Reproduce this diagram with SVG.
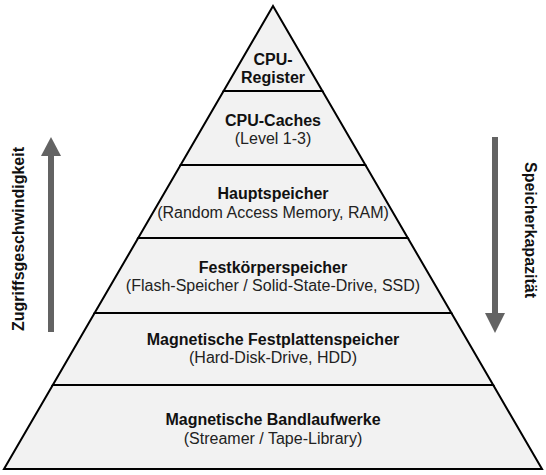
<svg xmlns="http://www.w3.org/2000/svg" width="546" height="475" viewBox="0 0 546 475">
<style>
.lvl{fill:#f2f2f2;stroke:#000;stroke-width:2;stroke-linejoin:miter}
.t{font-family:"Liberation Sans",Arial,sans-serif;font-size:16px;text-anchor:middle}
.b{font-weight:bold;fill:#111}
.r{fill:#222}
.arr{fill:#636363}
</style>
<rect width="546" height="475" fill="#fff"/>
<g id="level-bandlaufwerke">
<polygon class="lvl" points="52.8,385 493.2,385 542,469 4,469"/>
<text class="t b" x="273" y="424.5">Magnetische Bandlaufwerke</text>
<text class="t r" x="273" y="443.5">(Streamer / Tape-Library)</text>
</g>
<g id="level-festplatten">
<polygon class="lvl" points="94.6,313 451.4,313 493.2,385 52.8,385"/>
<text class="t b" x="273" y="344.5">Magnetische Festplattenspeicher</text>
<text class="t r" x="273" y="363">(Hard-Disk-Drive, HDD)</text>
</g>
<g id="level-festkoerper">
<polygon class="lvl" points="138.2,238 407.8,238 451.4,313 94.6,313"/>
<text class="t b" x="273" y="272.5">Festkörperspeicher</text>
<text class="t r" x="273" y="290.5">(Flash-Speicher / Solid-State-Drive, SSD)</text>
</g>
<g id="level-hauptspeicher">
<polygon class="lvl" points="180.6,165 365.4,165 407.8,238 138.2,238"/>
<text class="t b" x="273" y="198.5">Hauptspeicher</text>
<text class="t r" x="273" y="217.5">(Random Access Memory, RAM)</text>
</g>
<g id="level-caches">
<polygon class="lvl" points="223.6,91 322.4,91 365.4,165 180.6,165"/>
<text class="t b" x="273" y="126">CPU-Caches</text>
<text class="t r" x="273" y="144">(Level 1-3)</text>
</g>
<g id="level-register">
<polygon class="lvl" points="273,6 322.4,91 223.6,91"/>
<text class="t b" x="273" y="65">CPU-</text>
<text class="t b" x="273" y="83">Register</text>
</g>
<g id="connectors">
<g id="arrow-speed">
<rect class="arr" x="48" y="155" width="6" height="177"/>
<polygon class="arr" points="41,156 51,137 61,156"/>
</g>
<g id="arrow-capacity">
<rect class="arr" x="492" y="137" width="6" height="177"/>
<polygon class="arr" points="485,313 505,313 495,333"/>
</g>
</g>
<g id="label-speed">
<text class="t b" transform="translate(23.5,239) rotate(-90)">Zugriffsgeschwindigkeit</text>
</g>
<g id="label-capacity">
<text class="t b" transform="translate(525,230) rotate(90)">Speicherkapazität</text>
</g>
</svg>
